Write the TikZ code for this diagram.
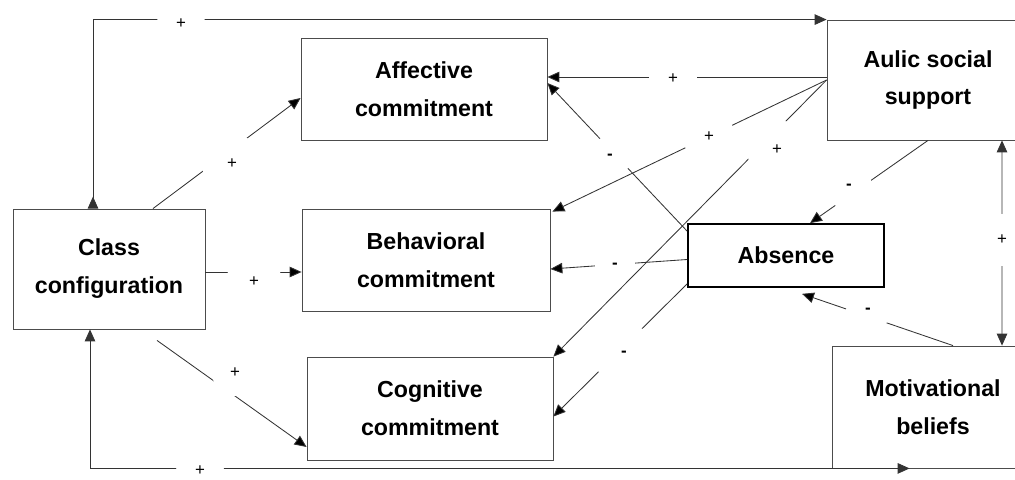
\documentclass[tikz,border=0pt]{standalone}
\usepackage{fontspec}
\setmainfont{Liberation Sans}
\usetikzlibrary{
    arrows.meta,
    calc,
    positioning
}

\tikzset{
    block/.style={draw=black!70, line width=0.6pt, align=center, inner sep=0pt,
        font=\fontsize{16.5}{27}\selectfont\bfseries},
    link/.style={draw=black!80, line width=0.6pt},
    sign/.style={circle, fill=white, inner sep=0pt, minimum size=1.2cm,
        font=\fontsize{12}{14}\selectfont}
}

\begin{document}
\begin{tikzpicture}[>={Triangle[length=8.5pt, width=7.5pt]}]
    \useasboundingbox (0, 0) rectangle (25.375, 11.975);
    \clip (0, 0) rectangle (25.375, 11.975);

    \node[block, minimum width=4.8cm, minimum height=3cm] (cls) at (2.725, 5.25) {Class\\configuration};
    \node[block, minimum width=6.15cm, minimum height=2.55cm] (aff) at (10.6, 9.75) {Affective\\commitment};
    \node[block, minimum width=6.2cm, minimum height=2.55cm] (beh) at (10.65, 5.475) {Behavioral\\commitment};
    \node[block, minimum width=6.15cm, minimum height=2.575cm] (cog) at (10.75, 1.7625) {Cognitive\\commitment};
    \node[block, minimum width=5.05cm, minimum height=3cm] (aul) at (23.2, 9.975) {Aulic social\\support};
    \node[block, draw=black, line width=1.2pt, minimum width=4.9cm, minimum height=1.575cm] (abs) at (19.65, 5.5875) {Absence};
    \node[block, minimum width=5.05cm, minimum height=3.05cm] (mot) at (23.325, 1.8) {Motivational\\beliefs};

    \draw[link, {Triangle[length=8.5pt, width=7.5pt, reversed]}->] ($(cls.north)+(-0.4, 0)$) |- (aul.north west);
    \draw[link, <->] ($(cls.south)+(-0.475, 0)$) |- ($(mot.south west)+(1.95, 0)$);
    \draw[link, <->] ($(aul.south)+(1.85, 0)$) -- ($(mot.north)+(1.725, 0)$);

    \draw[link]
    ($(cls.north)+(1.1, 0)$) edge[->] ($(aff.west)+(0, -0.225)$)
    ($(cls.east)+(0, -0.075)$) edge[->] ($(beh.west)+(0, -0.3)$)
    ($(cls.south)+(1.2, -0.275)$) edge[->] ($(cog.west)+(0, -0.9625)$)
    ($(aul.west)+(0, 0.075)$) edge[->] ($(aff.east)+(0, 0.3)$)
    (aul.west) edge[->] ($(beh.north east)+(0.05, -0.075)$)
    (aul.west) edge[->] (cog.north east)
    (aul.south) edge[->] ($(abs.north)+(0.6, 0)$)
    ($(abs.north west)+(0, -0.2)$) edge[->] ($(aff.east)+(0, 0.15)$)
    ($(abs.west)+(0, -0.1)$) edge[->] ($(beh.east)+(0, -0.225)$)
    ($(abs.south west)+(0, 0.1)$) edge[->] ($(cog.east)+(0, -0.2)$)
    ($(mot.north)+(0.5, 0)$) edge[->] ($(abs.south)+(0.4, -0.15)$);

    \node[sign] (s1) at (4.525, 11.375) {+};
    \node[sign] (s2) at (5.0, 0.2) {+};
    \node[sign, minimum size=1.5cm] (s3) at (5.8, 7.875) {+};
    \node[sign, minimum size=1.4cm] (s4) at (6.35, 4.925) {+};
    \node[sign, minimum size=1.15cm] (s5) at (5.875, 2.65) {+};
    \node[sign] (s6) at (16.825, 10.0) {+};
    \node[sign, minimum size=1.3cm] (s7) at (17.725, 8.55) {+};
    \node[sign, minimum size=1.5cm] (s8) at (19.425, 8.225) {+};
    \node[sign, minimum size=1.15cm] (s9) at (21.225, 7.3) {\textbf{-}};
    \node[sign, minimum size=1.05cm] (s10) at (15.25, 8.05) {\textbf{-}};
    \node[sign, rectangle, minimum width=1.0cm, minimum height=0.3cm] (s11) at (15.375, 5.325) {\textbf{-}};
    \node[sign, minimum size=1.55cm] (s12) at (15.6, 3.125) {\textbf{-}};
    \node[sign, minimum size=1.1cm] (s13) at (21.7, 4.2) {\textbf{-}};
    \node[sign, minimum size=1.3cm] (s14) at (25.05, 5.975) {+};
\end{tikzpicture}
\end{document}
